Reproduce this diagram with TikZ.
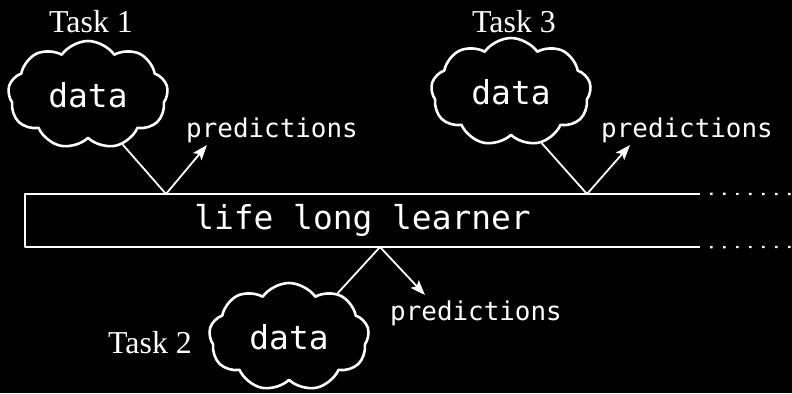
\documentclass[tikz,border=0pt]{standalone}
\usepackage{fontspec}
\setmainfont{Liberation Serif}
\setmonofont{DejaVu Sans Mono}
\usetikzlibrary{shapes.symbols,arrows.meta}
\begin{document}
\begin{tikzpicture}[x=1bp,y=-1bp,line join=round,
        cl/.style={cloud,cloud puffs=9,cloud puff arc=110,aspect=1.5,draw=white,line width=2.6bp,
            minimum width=160bp,minimum height=108bp,text=white,font=\fontsize{33}{36}\selectfont\ttfamily},
        tk/.style={anchor=base,text=white,font=\fontsize{32}{36}\selectfont},
        pr/.style={anchor=base,text=white,font=\fontsize{26}{30}\selectfont\ttfamily},
        ar/.style={white,line width=1.8bp,-{Stealth[length=15bp,width=11bp,inset=3bp]}},
        ln/.style={white,line width=2.2bp}]
        \fill[black] (0,0) rectangle (792,393);
        \useasboundingbox (0,0) rectangle (792,393);
        \node[minimum width=675bp,minimum height=53bp,text=white,font=\fontsize{33}{36}\selectfont\ttfamily] (box) at (362.5,220.5) {life long learner};
        \draw[ln] (box.north east) -- (box.north west) -- (box.south west) -- (box.south east);
        \coordinate (e1) at (792,194);
        \coordinate (e2) at (792,247);
        \draw[ln,dash pattern=on 2.5bp off 10.5bp] ([xshift=10bp]box.north east) -- (e1);
        \draw[ln,dash pattern=on 2.5bp off 10.5bp] ([xshift=10bp]box.south east) -- (e2);
        \node[cl] (c1) at (88,95) {data};
        \node[cl] (c3) at (511,92) {data};
        \node[cl] (c2) at (289,337) {data};
        \node[tk] (t1) at (91,32) {Task 1};
        \node[tk] (t3) at (514,32) {Task 3};
        \node[tk] (t2) at (150,353) {Task 2};
        \node[pr] (p1) at (272,137) {predictions};
        \node[pr] (p3) at (687,137) {predictions};
        \node[pr] (p2) at (476,320) {predictions};
        \coordinate (v1) at (166,194);
        \coordinate (v3) at (587,194);
        \coordinate (v2) at (380,247);
        \draw[ar] (c1.-55) -- (v1) -- ([shift={(-65,8)}]p1.base);
        \draw[ar] (c3.-59) -- (v3) -- ([shift={(-57,8)}]p3.base);
        \draw[ar] (c2.42) -- (v2) -- ([shift={(-51,-25)}]p2.base);
\end{tikzpicture}
\end{document}
